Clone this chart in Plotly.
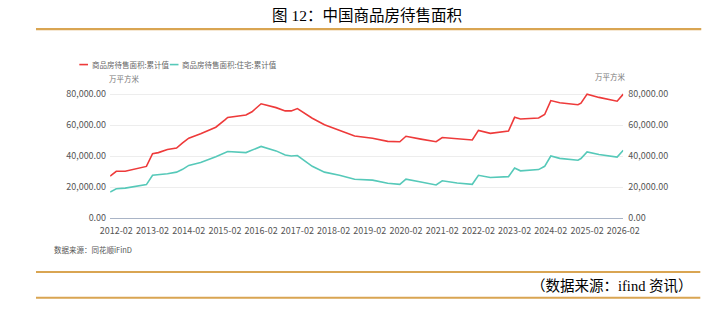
import plotly.graph_objects as go

# ---------------- data ----------------
dates = ["2011-12", "2012-02", "2012-05", "2012-12", "2013-02", "2013-04", "2013-07", "2013-10",
         "2013-12", "2014-02", "2014-06", "2014-11", "2015-02", "2015-03", "2015-09", "2015-11",
         "2016-02", "2016-07", "2016-10", "2016-12", "2017-02", "2017-07", "2017-11", "2018-04",
         "2018-09", "2019-03", "2019-08", "2019-12", "2020-02", "2020-07", "2020-12", "2021-02",
         "2021-07", "2021-12", "2022-02", "2022-06", "2022-12", "2023-02", "2023-04", "2023-10",
         "2023-12", "2024-02", "2024-05", "2024-11", "2024-12", "2025-02", "2025-06", "2025-12",
         "2026-02"]

total_area = [27100, 30250, 30250, 33400, 41650, 42300, 44350, 45200,
              48500, 51600, 54500, 58650, 63400, 65000, 66500, 68600,
              73800, 71300, 69200, 69200, 70700, 64450, 60300, 56600,
              53050, 51600, 49550, 49300, 52850, 51000, 49300, 52000,
              51000, 50400, 56600, 54700, 56150, 65050, 64000, 64650,
              66900, 75850, 74400, 73150, 74200, 80000, 77900, 75450,
              80000]

residential_area = [16900, 19000, 19400, 21650, 27650, 28000, 28700, 29700,
                    31500, 34050, 35900, 39650, 42100, 43000, 42300, 43800,
                    46300, 43400, 40700, 40100, 40400, 33450, 29700, 27650,
                    25150, 24550, 22500, 21850, 25150, 23300, 21450, 24150,
                    22700, 21850, 27650, 26200, 26800, 32400, 30550, 31350,
                    33450, 40100, 38600, 37400, 38450, 42750, 41100, 39450,
                    43800]

series_names = ["商品房待售面积:累计值", "商品房待售面积:住宅:累计值"]
series_colors = ["#EE3A3A", "#56C9B9"]

tick_labels = ["2012-02", "2013-02", "2014-02", "2015-02", "2016-02", "2017-02", "2018-02",
               "2019-02", "2020-02", "2021-02", "2022-02", "2023-02", "2024-02", "2025-02",
               "2026-02"]
y_ticks = [0, 20000, 40000, 60000, 80000]

# ---------------- figure ----------------
W, H = 725, 325
def px(x):
    return x / W
def py(y):
    return 1 - y / H

FONT = "Noto Sans CJK SC, Noto Sans, sans-serif"
SERIF = "Liberation Serif, Noto Sans CJK SC, serif"

fig = go.Figure()
for vals, name, col in zip([total_area, residential_area], series_names, series_colors):
    fig.add_trace(go.Scatter(x=[d + "-01" for d in dates], y=vals, mode="lines", name=name,
                             line=dict(color=col, width=1.6), showlegend=False))
# invisible trace on the right axis to show its ticks
fig.add_trace(go.Scatter(x=[dates[0] + "-01"], y=[total_area[0]], yaxis="y2", mode="lines",
                         line=dict(width=0), showlegend=False, hoverinfo="skip"))

plot_left, plot_right = 104, 637
plot_bottom, plot_top = 221, 89.8
ymax = 82000

fig.update_layout(
    width=W, height=H,
    margin=dict(l=0, r=0, t=0, b=0),
    paper_bgcolor="white", plot_bgcolor="white",
    font=dict(family=FONT, size=9, color="#666666"),
    xaxis=dict(
        domain=[px(plot_left), px(plot_right)],
        type="date",
        range=["2011-12-01", "2026-02-01"],
        tickvals=[t + "-01" for t in tick_labels],
        ticktext=tick_labels,
        showgrid=False, zeroline=False,
        showline=True, linecolor="#A9B4C6", linewidth=1,
        ticks="", ticklabelstandoff=4,
        tickfont=dict(size=9, color="#555555"),
    ),
    yaxis=dict(
        domain=[py(plot_bottom), py(plot_top)],
        range=[0, ymax],
        tickvals=y_ticks,
        tickformat=",.2f",
        showgrid=True, gridcolor="#EDEDED", gridwidth=1,
        zeroline=False, showline=False, ticks="", ticklabelstandoff=3,
        tickfont=dict(size=9, color="#555555"),
    ),
    yaxis2=dict(
        overlaying="y", side="right",
        range=[0, ymax],
        tickvals=y_ticks,
        tickformat=",.2f",
        showgrid=False, zeroline=False, showline=False, ticks="", ticklabelstandoff=4,
        tickfont=dict(size=9, color="#555555"),
    ),
)

annotations = [
    dict(text="图 12：中国商品房待售面积", x=px(371), y=py(12), xanchor="center", yanchor="middle",
         font=dict(family=SERIF, size=15.5, color="#000000")),
    dict(text=series_names[0], x=px(83), y=py(62.5), xanchor="left", yanchor="middle",
         font=dict(size=7.5, color="#666666")),
    dict(text=series_names[1], x=px(177), y=py(62.5), xanchor="left", yanchor="middle",
         font=dict(size=7.5, color="#666666")),
    dict(text="万平方米", x=px(119), y=py(76.5), xanchor="center", yanchor="middle",
         font=dict(size=7.5, color="#777777")),
    dict(text="万平方米", x=px(624), y=py(75), xanchor="center", yanchor="middle",
         font=dict(size=7.5, color="#777777")),
    dict(text="数据来源：同花顺iFinD", x=px(44), y=py(253), xanchor="left", yanchor="middle",
         font=dict(size=7.5, color="#555555")),
    dict(text="（数据来源：ifind 资讯）", x=px(712), y=py(291), xanchor="right", yanchor="middle",
         font=dict(family=SERIF, size=14.5, color="#000000")),
]
for a in annotations:
    a.update(xref="paper", yref="paper", showarrow=False)
fig.update_layout(annotations=annotations)

shapes = [
    dict(type="line", x0=px(27), x1=px(718), y0=py(26), y1=py(26),
         line=dict(color="#D9A552", width=2.2)),
    dict(type="line", x0=px(27), x1=px(717), y0=py(276.5), y1=py(276.5),
         line=dict(color="#D9A552", width=2)),
    dict(type="line", x0=px(27), x1=px(717), y0=py(303), y1=py(303),
         line=dict(color="#D9A552", width=2)),
    dict(type="line", x0=px(72), x1=px(81), y0=py(62.5), y1=py(62.5),
         line=dict(color=series_colors[0], width=1.6)),
    dict(type="line", x0=px(166), x1=px(175), y0=py(62.5), y1=py(62.5),
         line=dict(color=series_colors[1], width=1.6)),
]
for s in shapes:
    s.update(xref="paper", yref="paper")
fig.update_layout(shapes=shapes)

fig.write_html("out.html")
